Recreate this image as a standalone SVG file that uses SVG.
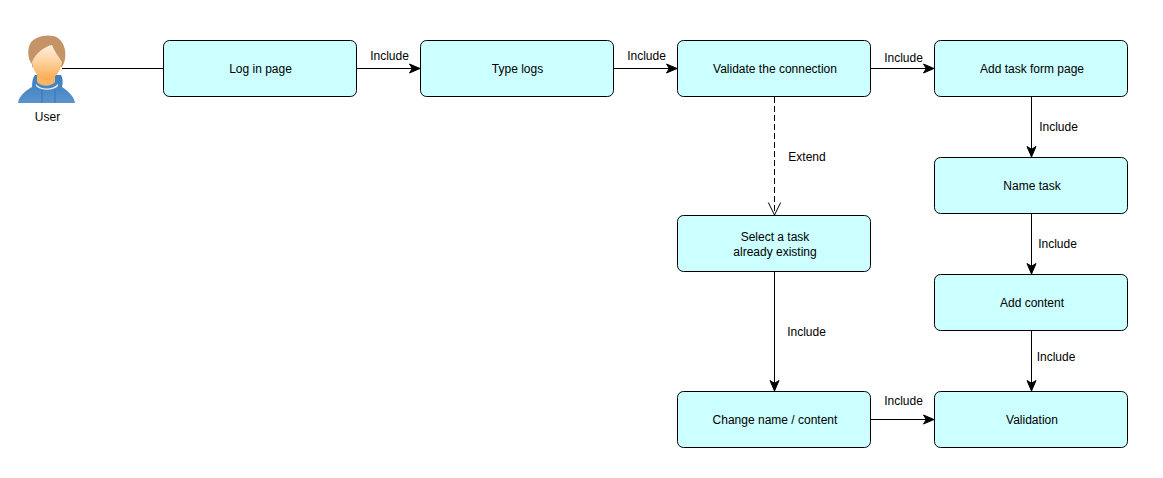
<svg xmlns="http://www.w3.org/2000/svg" width="1163" height="478" viewBox="0 0 1163 478">
<style>
text{font-family:"Liberation Sans",Arial,sans-serif;font-size:12px;fill:#000;text-anchor:middle}
.n{fill:#ccffff;stroke:#000;stroke-width:1}
.c{fill:none;stroke:#000;stroke-width:1}
</style>
<defs>
<marker id="a" markerUnits="userSpaceOnUse" markerWidth="13" markerHeight="12" refX="11.500" refY="6" orient="auto"><path d="M1 1.500 L11.500 6 L1 10.500 L3.800 6Z" fill="#000" stroke="#000"/></marker>
<marker id="o" markerUnits="userSpaceOnUse" markerWidth="15" markerHeight="16" refX="13" refY="8" orient="auto"><path d="M0.500 1.800 L13 8 L0.500 14.200" fill="none" stroke="#000"/></marker>
<linearGradient id="sk" x1="0" y1="0" x2="0" y2="1"><stop offset="0" stop-color="#ffeedd"/><stop offset="0.5" stop-color="#fdd09a"/><stop offset="1" stop-color="#fba94f"/></linearGradient>
<linearGradient id="bl" x1="0" y1="0" x2="0" y2="1"><stop offset="0" stop-color="#3a7dbd"/><stop offset="1" stop-color="#5a94cc"/></linearGradient>
</defs>
<g id="connectors">
<path class="c" d="M62 68.500H163"/>
<path class="c" d="M357 68.500H420" marker-end="url(#a)"/>
<path class="c" d="M614 68.500H677" marker-end="url(#a)"/>
<path class="c" d="M871 68.500H934" marker-end="url(#a)"/>
<path class="c" d="M1031.500 97V157" marker-end="url(#a)"/>
<path class="c" d="M1031.500 214V274" marker-end="url(#a)"/>
<path class="c" d="M1031.500 331V391" marker-end="url(#a)"/>
<path class="c" d="M774.500 97V215" stroke-dasharray="6 3" marker-end="url(#o)"/>
<path class="c" d="M774.500 272V391" marker-end="url(#a)"/>
<path class="c" d="M871 419.500H934" marker-end="url(#a)"/>
<text x="389.500" y="60">Include</text>
<text x="646.500" y="60">Include</text>
<text x="903.500" y="62">Include</text>
<text x="1058.500" y="131">Include</text>
<text x="1057.500" y="248">Include</text>
<text x="1056" y="361">Include</text>
<text x="807" y="161">Extend</text>
<text x="806.500" y="336">Include</text>
<text x="903.500" y="405">Include</text>
</g>
<g id="user">
<path d="M18 103 C19 96 25 91 32 87 C32 81 33 77 35 75 L61 75 C63 78 63 83 62 87 C68 91 74 96 75 103Z" fill="url(#bl)"/>
<path d="M42 90 V103 M55 90 V103" fill="none" stroke="#2f6aa6" stroke-width="0.700"/>
<path d="M36 84 C41 90 52 90 58 84 L58 86 C53 91 41 91 36 86Z" fill="#ececec"/>
<path d="M37 72 H55 V82 C51 87 41 87 37 82Z" fill="#f9b566"/>
<path d="M32 64 C28 60 27 50 30 44 C34 36 50 33 58 38 C65 43 67 54 64 63 L62 67 L32 67Z" fill="#c49468"/>
<path d="M32 62 C33 72 40 80 47 80 C54 80 61 72 62 62 C58 56 54 50 52 45 C46 46 36 52 32 62Z" fill="url(#sk)"/>
<text x="47.500" y="120.500">User</text>
</g>
<g id="log-in"><rect class="n" x="163.500" y="40.500" width="193" height="56" rx="6"/><text x="260.500" y="73">Log in page</text></g>
<g id="type-logs"><rect class="n" x="420.500" y="40.500" width="193" height="56" rx="6"/><text x="517.500" y="73">Type logs</text></g>
<g id="validate-connection"><rect class="n" x="677.500" y="40.500" width="193" height="56" rx="6"/><text x="775" y="73">Validate the connection</text></g>
<g id="add-task"><rect class="n" x="934.500" y="40.500" width="193" height="56" rx="6"/><text x="1032" y="73">Add task form page</text></g>
<g id="name-task"><rect class="n" x="934.500" y="157.500" width="193" height="56" rx="6"/><text x="1032" y="190">Name task</text></g>
<g id="add-content"><rect class="n" x="934.500" y="274.500" width="193" height="56" rx="6"/><text x="1032" y="307">Add content</text></g>
<g id="validation"><rect class="n" x="934.500" y="391.500" width="193" height="56" rx="6"/><text x="1032" y="424">Validation</text></g>
<g id="select-task"><rect class="n" x="677.500" y="215.500" width="193" height="56" rx="6"/><text x="775" y="241">Select a task</text><text x="775" y="256">already existing</text></g>
<g id="change-name"><rect class="n" x="677.500" y="391.500" width="193" height="56" rx="6"/><text x="775" y="424">Change name / content</text></g>
</svg>
